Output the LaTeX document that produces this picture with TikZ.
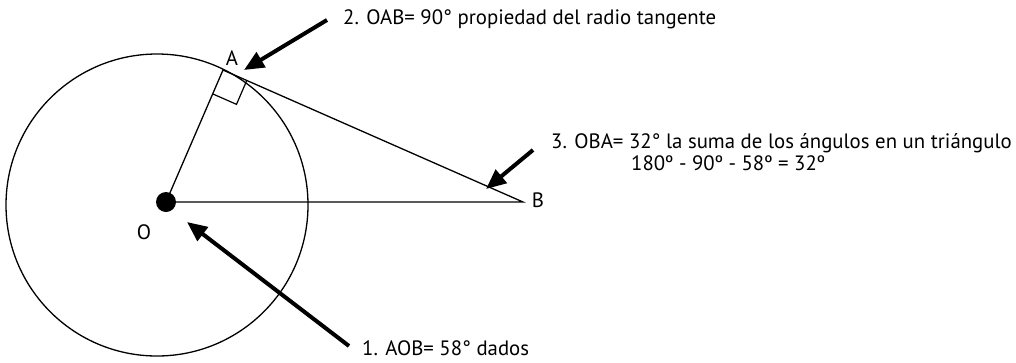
\documentclass[tikz,border=0pt]{standalone}
\usepackage{fontspec}
\setmainfont{PT Sans}
\usetikzlibrary{calc,arrows.meta}
\begin{document}
\begin{tikzpicture}[x=1pt,y=-1pt,
  geo/.style={line width=1.3pt},
  pointer/.style={line width=4pt,-{Triangle[length=20pt,width=17pt]}},
  note/.style={anchor=base west,inner sep=0pt,font=\fontsize{20.8}{24}\selectfont},
  lbl/.style={inner sep=0pt,font=\fontsize{20.8}{24}\selectfont}]
  \useasboundingbox (0,0) rectangle (1016,362);
  % circle and triangle
  \coordinate (C) at (157,205);
  \coordinate (O) at (166,202);
  \coordinate (A) at (223,70);
  \coordinate (B) at (523,202);
  \draw[geo] (C) circle[radius=151pt];
  \draw[geo] (O) -- (A) -- (B) -- (O);
  \fill (O) circle[radius=10pt];
  % right angle at A
  \coordinate (A1) at ($(A)!26pt!(O)$);
  \coordinate (A2) at ($(A)!26pt!(B)$);
  \coordinate (A12) at ($(A1)+(A2)-(A)$);
  \draw[line width=1.2pt] (A1) -- (A12) -- (A2);
  % point labels
  \node[lbl] (Alab) at (232,58) {A};
  \node[lbl] (Blab) at (538,200) {B};
  \node[lbl] (Olab) at (144,232) {O};
  % notes
  \node[note] (step2) at (343,24) {2. OAB= 90° propiedad del radio tangente};
  \node[note] (step3) at (551,148) {3. OBA= 32° la suma de los ángulos en un triángulo};
  \node[note] (step3b) at (631,170) {180º - 90º - 58º = 32º};
  \node[note] (step1) at (362,355) {1. AOB= 58° dados};
  % pointers
  \coordinate (t2) at (327,20);
  \coordinate (h2) at (244,70);
  \coordinate (t3) at (533,150);
  \coordinate (h3) at (486,189);
  \coordinate (t1) at (349,346);
  \coordinate (h1) at (187,222);
  \draw[pointer] (t2) -- (h2);
  \draw[pointer] (t3) -- (h3);
  \draw[pointer] (t1) -- (h1);
\end{tikzpicture}
\end{document}
